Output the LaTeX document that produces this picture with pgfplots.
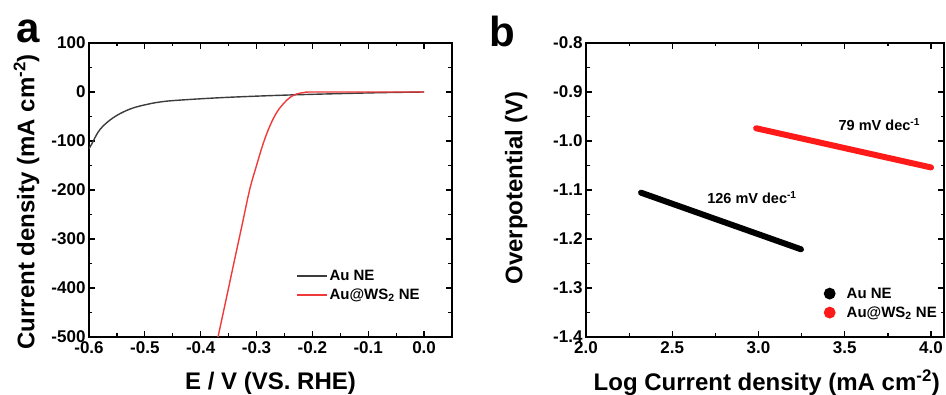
\documentclass[border=0pt]{standalone}
\usepackage{fontspec}
\setmainfont{Liberation Sans}
\usepackage{pgfplots}
\pgfplotsset{compat=1.18}
\definecolor{redc}{HTML}{F03A3A}
\definecolor{redb}{HTML}{FF1A1A}
\definecolor{grayc}{HTML}{3C3C3C}
\begin{document}
\begin{tikzpicture}
\useasboundingbox (0pt,0pt) rectangle (946pt,-395pt);
\pgfplotsset{
  every axis/.append style={
    scale only axis, height=294pt, anchor=north west,
    axis line style={line width=1.3pt},
    major tick length=6pt, minor tick length=3.5pt,
    every tick/.style={line width=1.2pt, black},
    tick label style={font=\bfseries\fontsize{17}{19}\selectfont},
    xticklabel style={yshift=-1.5pt},
    label style={font=\bfseries\fontsize{24}{27}\selectfont},
    /pgf/number format/assume math mode=true,
    minor x tick num=1, minor y tick num=1,
    clip=true,
  }
}
\node[font=\bfseries\fontsize{42}{42}\selectfont] at (28pt,-31pt) {a};
\node[font=\bfseries\fontsize{42}{42}\selectfont] at (502pt,-31pt) {b};
\begin{axis}[at={(89pt,-43pt)}, width=363pt,
  xmin=-0.6, xmax=0.05, ymin=-500, ymax=100,
  xtick={-0.6,-0.5,-0.4,-0.3,-0.2,-0.1,0},
  ytick={-500,-400,-300,-200,-100,0,100},
  xticklabel style={/pgf/number format/.cd, fixed, fixed zerofill, precision=1},
  xlabel={E / V (VS. RHE)},
  ylabel={Current density (mA cm\textsuperscript{-2})},
  xlabel style={at={(axis description cs:0.5,-0.156)}, anchor=center},
  ylabel style={at={(axis description cs:-0.172,0.46)}, anchor=center},
  legend style={draw=none, fill=none, inner sep=0pt, row sep=3pt,
    at={(axis description cs:0.57,0.175)}, anchor=west,
    font=\bfseries\fontsize{15}{17}\selectfont},
  legend cell align=left,
  legend image code/.code={\draw[#1] (0pt,0pt) -- (30pt,0pt);},
]
\addplot[grayc, line width=1.4pt, smooth, tension=0.6] coordinates {
(-0.6,-116) (-0.595,-106) (-0.58,-76) (-0.556,-52) (-0.527,-35) (-0.497,-25.5)
(-0.467,-19.5) (-0.43,-16) (-0.371,-12) (-0.312,-9) (-0.252,-6.5) (-0.192,-4.5)
(-0.133,-2.8) (-0.07,-1.2) (0,0)};
\addlegendentry{Au NE}
\addplot[redc, line width=1.4pt, smooth, tension=0.6] coordinates {
(-0.369,-500) (-0.355,-426) (-0.340,-346) (-0.326,-272) (-0.312,-198)
(-0.300,-150) (-0.288,-105) (-0.276,-69) (-0.264,-42) (-0.252,-24)
(-0.240,-11) (-0.228,-4) (-0.214,-1) (-0.20,0) (-0.1,0) (0,0)};
\addlegendentry{Au@WS\textsubscript{2} NE}
\end{axis}
\begin{axis}[at={(586pt,-43pt)}, width=358pt,
  xmin=2.0, xmax=4.075, ymin=-1.4, ymax=-0.8,
  xtick={2.0,2.5,3.0,3.5,4.0},
  ytick={-1.4,-1.3,-1.2,-1.1,-1.0,-0.9,-0.8},
  xticklabel style={/pgf/number format/.cd, fixed, fixed zerofill, precision=1},
  yticklabel style={/pgf/number format/.cd, fixed, fixed zerofill, precision=1},
  xlabel={Log Current density (mA cm\textsuperscript{-2})},
  ylabel={Overpotential (V)},
  xlabel style={at={(axis description cs:0.505,-0.156)}, anchor=center},
  ylabel style={at={(axis description cs:-0.195,0.507)}, anchor=center},
  legend style={draw=none, fill=none, inner sep=0pt, row sep=3pt,
    at={(axis description cs:0.655,0.115)}, anchor=west,
    font=\bfseries\fontsize{15}{17}\selectfont},
  legend cell align=left,
  legend image code/.code={\fill[#1] (6pt,0pt) circle (2.7pt); \path (0pt,0pt) (18pt,0pt);},
]
\addplot[black, line width=6pt, line cap=round] coordinates {(2.319,-1.1055) (3.246,-1.221)};
\addlegendentry{Au NE}
\addplot[redb, line width=6pt, line cap=round] coordinates {(2.986,-0.974) (4.0,-1.054)};
\addlegendentry{Au@WS\textsubscript{2} NE}
\node[font=\bfseries\fontsize{14.5}{16}\selectfont] at (axis cs:2.962,-1.116) {126 mV dec\textsuperscript{-1}};
\node[font=\bfseries\fontsize{14.5}{16}\selectfont] at (axis cs:3.70,-0.967) {79 mV dec\textsuperscript{-1}};
\end{axis}
\end{tikzpicture}
\end{document}
